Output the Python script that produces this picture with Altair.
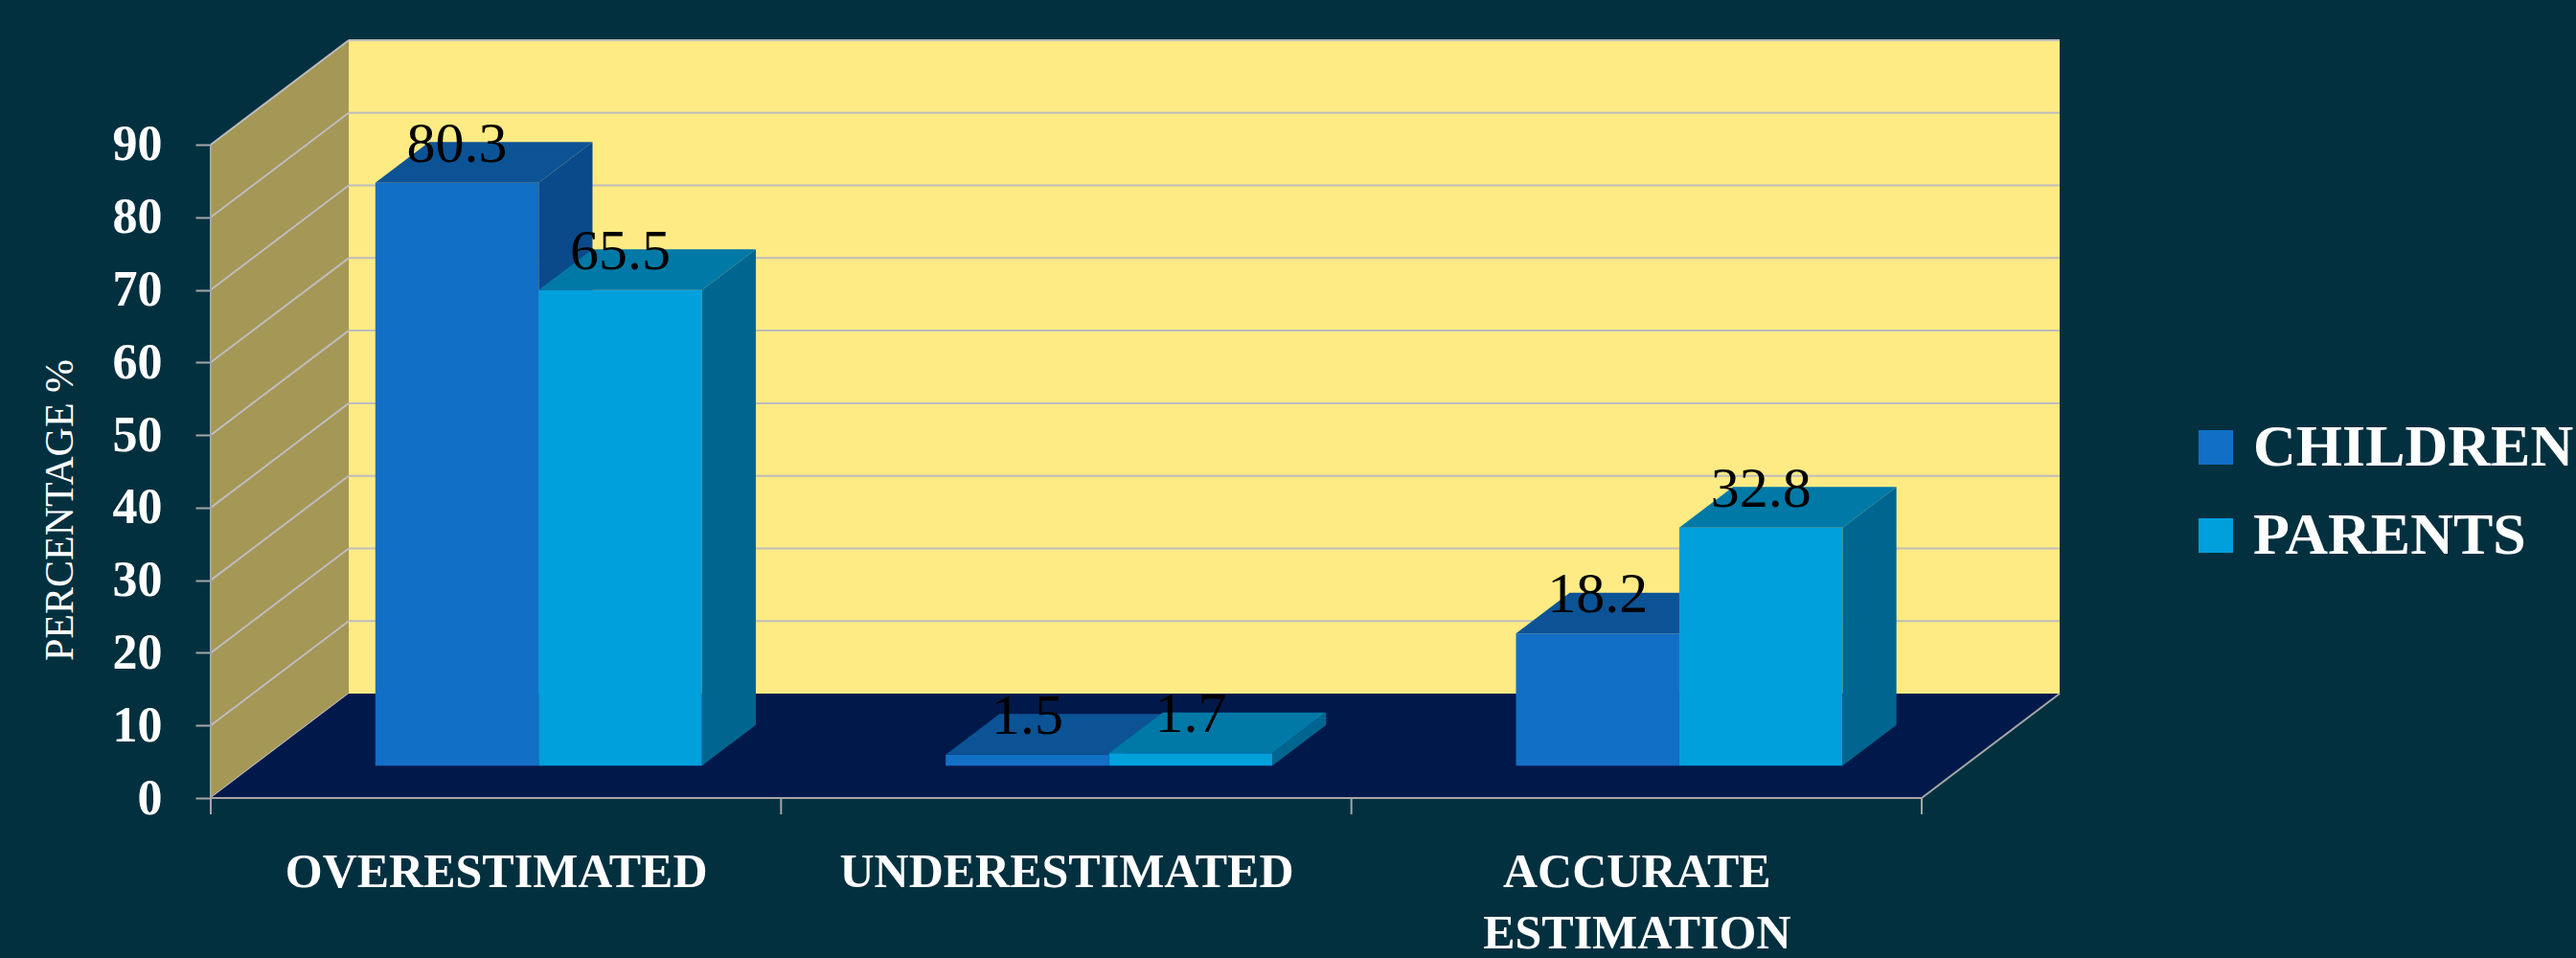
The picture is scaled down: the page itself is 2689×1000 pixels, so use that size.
import json
import altair as alt
import pandas as pd

# ---- data ----
categories = ["OVERESTIMATED", "UNDERESTIMATED", "ACCURATE ESTIMATION"]
series_names = ["CHILDREN", "PARENTS"]
children_values = [80.3, 1.5, 18.2]
parents_values = [65.5, 1.7, 32.8]
y_tick_values = [0, 10, 20, 30, 40, 50, 60, 70, 80, 90]

# ---- 3D geometry (in data units) ----
DX = 0.2419     # depth of the chart box along x (category units)
DY = 14.38      # depth of the chart box along y (percentage units)
F0 = 0.31       # depth at which the bars start
FB = 0.39       # depth of the bars
BW = 0.2864     # width of one bar (category units)
N = len(categories)
YMAX = 90

W, H = 1930, 791
FONT = "Liberation Serif"
BG = "#03303f"
GRID = "#bdbdbd"

front_colors = ["#116fc6", "#00a0dc"]
top_colors = ["#0c5396", "#0079a7"]
side_colors = ["#0a4a8a", "#006690"]

xscale = alt.Scale(domain=[0, N + DX], nice=False, zero=False)
yscale = alt.Scale(domain=[0, YMAX + DY], nice=False, zero=False)

# ---- tables built from the arrays ----
front_rows, top_rows, side_rows = [], [], []
for i, cat in enumerate(categories):
    for j, (s, vals) in enumerate(zip(series_names, [children_values, parents_values])):
        v = vals[i]
        x1 = i + 0.5 + F0 * DX + (j - 1) * BW
        x2 = x1 + BW
        yb = F0 * DY
        yt = yb + v
        bid = f"{i}-{j}"
        front_rows.append(dict(category=cat, series=s, value=v, x1=x1, x2=x2,
                               xc=(x1 + x2) / 2, yb=yb, yt=yt, bar=bid))
        top_rows.append(dict(series=s, bar=bid, y=yt, xa=x1, xb=x2))
        top_rows.append(dict(series=s, bar=bid, y=yt + FB * DY, xa=x1 + FB * DX, xb=x2 + FB * DX))
        side_rows.append(dict(series=s, bar=bid, x=x2, ya=yb, yb2=yt))
        side_rows.append(dict(series=s, bar=bid, x=x2 + FB * DX, ya=yb + FB * DY, yb2=yt + FB * DY))
front_df = pd.DataFrame(front_rows)
top_df = pd.DataFrame(top_rows)
side_df = pd.DataFrame(side_rows)

back_df = pd.DataFrame([dict(x=DX, x2=N + DX, y=DY, y2=YMAX + DY)])
back_grid_df = pd.DataFrame([dict(x=DX, x2=N + DX, y=DY + v) for v in y_tick_values[1:]])
left_wall_df = pd.DataFrame([dict(x=0, y=0, y2=YMAX), dict(x=DX, y=DY, y2=YMAX + DY)])
left_grid_df = pd.DataFrame([dict(x=0, x2=DX, y=v, y2=v + DY) for v in y_tick_values])
floor_df = pd.DataFrame([dict(y=0, x=0, x2=N), dict(y=DY, x=DX, x2=N + DX)])
edge_df = pd.DataFrame([
    dict(x=0, x2=0, y=0, y2=YMAX),
    dict(x=0, x2=N, y=0, y2=0),
    dict(x=N, x2=N + DX, y=0, y2=DY),
])
xtick_df = pd.DataFrame([dict(x=k, y=0, y2=-17 / (H / (YMAX + DY))) for k in range(N + 1)])

label_expr = f"split({json.dumps(categories)}[floor(datum.value)], ' ')"

x_axis = alt.Axis(values=[k + 0.5 for k in range(N)], labelExpr=label_expr, ticks=False,
                  domain=False, grid=False, title=None, labelAngle=0, labelFont=FONT,
                  labelFontSize=50, labelFontWeight="bold", labelColor="white",
                  labelPadding=52, labelBaseline="top", labelLineHeight=64,
                  labelOverlap=False, labelFlush=False, labelBound=False, labelLimit=0)
y_axis = alt.Axis(values=y_tick_values, domain=False, grid=False, tickColor="#a6a6a6",
                  tickWidth=2, tickSize=16, labelPadding=35, labelFont=FONT,
                  labelFontSize=52, labelFontWeight="bold", labelColor="white",
                  labelBaseline="middle", title="PERCENTAGE %", titleFont=FONT,
                  titleFontSize=42, titleFontWeight="normal", titleColor="white",
                  titleAngle=270, titleX=-158, titleY=490, titleAlign="center",
                  titleBaseline="middle")


def X(f):
    return alt.X(f, type="quantitative", scale=xscale, axis=x_axis, stack=None)


def Y(f):
    return alt.Y(f, type="quantitative", scale=yscale, axis=y_axis, stack=None)


back = alt.Chart(back_df).mark_rect(color="#ffeb84").encode(
    x=X("x"), x2="x2", y=Y("y"), y2="y2")
back_grid = alt.Chart(back_grid_df).mark_rule(color=GRID, strokeWidth=2).encode(
    x=X("x"), x2="x2", y=Y("y"))
left_wall = alt.Chart(left_wall_df).mark_area(color="#a59756", orient="vertical").encode(
    x=X("x"), y=Y("y"), y2="y2")
left_grid = alt.Chart(left_grid_df).mark_rule(color=GRID, strokeWidth=2).encode(
    x=X("x"), x2="x2", y=Y("y"), y2="y2")
floor = alt.Chart(floor_df).mark_area(color="#00194a", orient="horizontal").encode(
    y=Y("y"), x=X("x"), x2="x2")
edges = alt.Chart(edge_df).mark_rule(color="#a6a6a6", strokeWidth=2).encode(
    x=X("x"), x2="x2", y=Y("y"), y2="y2")
xticks = alt.Chart(xtick_df).mark_rule(color="#a6a6a6", strokeWidth=2).encode(
    x=X("x"), y=Y("y"), y2="y2")

legend = alt.Legend(orient="none", legendX=2062, legendY=394, title=None,
                    symbolType="square", symbolSize=1296, symbolStrokeWidth=0,
                    labelFont=FONT, labelFontSize=62, labelFontWeight="bold",
                    labelColor="white", labelOffset=8, rowPadding=30, padding=0,
                    labelLimit=600)
color_scale = alt.Scale(domain=series_names, range=front_colors)

bar_layers = []
for j, s in enumerate(series_names):
    fr = alt.Chart(front_df).transform_filter(alt.datum.series == s).mark_rect().encode(
        x=X("x1"), x2="x2", y=Y("yb"), y2="yt",
        color=alt.Color("series:N", scale=color_scale, legend=legend))
    tp = alt.Chart(top_df).transform_filter(alt.datum.series == s).mark_area(
        orient="horizontal", color=top_colors[j]).encode(
        y=Y("y"), x=X("xa"), x2="xb", detail="bar:N")
    sd = alt.Chart(side_df).transform_filter(alt.datum.series == s).mark_area(
        orient="vertical", color=side_colors[j]).encode(
        x=X("x"), y=Y("ya"), y2="yb2", detail="bar:N")
    bar_layers += [fr, tp, sd]

labels = alt.Chart(front_df).mark_text(font=FONT, fontSize=60, color="black",
                                       baseline="alphabetic", align="center", dy=-22).encode(
    x=X("xc"), y=Y("yt"), text=alt.Text("value:Q", format=".1f"))

chart = alt.layer(back, back_grid, left_wall, left_grid, floor, edges, xticks,
                  *bar_layers, labels).properties(
    width=W, height=H,
    autosize=alt.AutoSizeParams(type="none"),
    padding={"left": 220, "top": 42, "right": 2689 - 220 - W, "bottom": 1000 - 42 - H},
    background=BG,
).configure_view(strokeWidth=0)

chart.save("out.html", embed_options={"renderer": "svg", "actions": False})
